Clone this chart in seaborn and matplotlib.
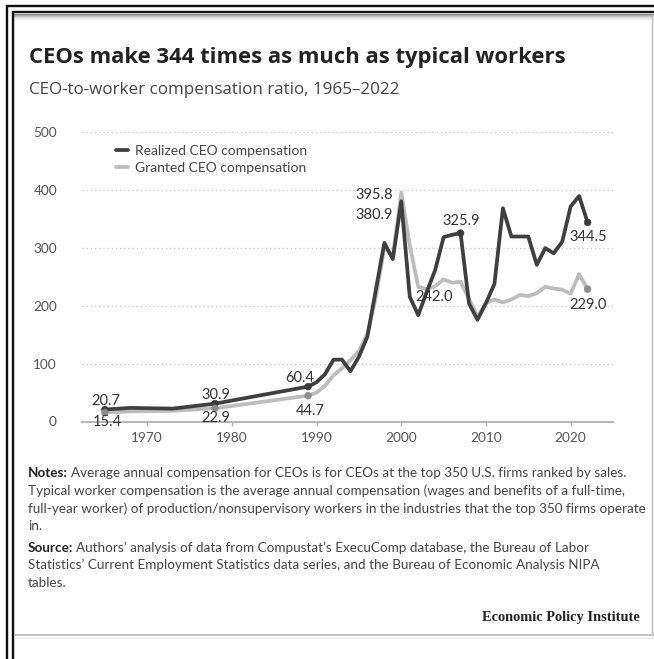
import numpy as np
import pandas as pd
import matplotlib
matplotlib.use("Agg")
import matplotlib.pyplot as plt
from matplotlib.lines import Line2D
import seaborn as sns

# ---------------- data ----------------
years = [1965, 1968, 1973, 1978, 1989, 1990, 1991, 1992, 1993, 1994, 1995, 1996,
         1997, 1998, 1999, 2000, 2001, 2002, 2003, 2004, 2005, 2006, 2007, 2008,
         2009, 2010, 2011, 2012, 2013, 2014, 2015, 2016, 2017, 2018, 2019, 2020,
         2021, 2022]
realized = [20.7, 23.5, 22.3, 30.9, 60.4, 68, 82, 107, 107, 87, 112, 147,
            228, 309, 281, 380.9, 216, 184, 224, 262, 319, 323, 325.9, 204,
            176, 205, 238, 369, 320, 320, 320, 271, 300, 291, 311, 372,
            390, 344.5]
granted = [15.4, 17.5, 18.5, 22.9, 44.7, 50, 62, 80, 92, 106, 122, 152,
           215, 302, 285, 395.8, 305, 233, 229, 234, 246, 240, 242.0, 212,
           181, 205, 211, 206, 211, 219, 217, 222, 233, 230, 228, 221,
           255, 229.0]
series_names = ["Realized CEO compensation", "Granted CEO compensation"]
x_ticks = [1970, 1980, 1990, 2000, 2010, 2020]
y_ticks = [0, 100, 200, 300, 400, 500]

# labelled points: (series index, year, text, dx px, dy px, ha)
labels = [
    (0, 1965, "20.7", 1, -8.5, "center"),
    (1, 1965, "15.4", 2, 9.5, "center"),
    (0, 1978, "30.9", 1, -9, "center"),
    (1, 1978, "22.9", 1, 10, "center"),
    (0, 1989, "60.4", -8, -9, "center"),
    (1, 1989, "44.7", 2, 15, "center"),
    (1, 2000, "395.8", -8, 2, "right"),
    (0, 2000, "380.9", -8, 14, "right"),
    (0, 2007, "325.9", 1, -12, "center"),
    (1, 2007, "242.0", -8, 15, "right"),
    (0, 2022, "344.5", 1, 15, "center"),
    (1, 2022, "229.0", 0, 16, "center"),
]
dot_points = [(0, 1965), (1, 1965), (0, 1978), (1, 1978), (0, 1989), (1, 1989),
              (0, 2007), (0, 2022), (1, 2022)]

notes_lines = [
    ("Notes:", "Average annual compensation for CEOs is for CEOs at the top 350 U.S. firms ranked by sales."),
    (None, "Typical worker compensation is the average annual compensation (wages and benefits of a full-time,"),
    (None, "full-year worker) of production/nonsupervisory workers in the industries that the top 350 firms operate"),
    (None, "in."),
    ("Source:", "Authors\u2019 analysis of data from Compustat\u2019s ExecuComp database, the Bureau of Labor"),
    (None, "Statistics\u2019 Current Employment Statistics data series, and the Bureau of Economic Analysis NIPA"),
    (None, "tables."),
]

# ---------------- style ----------------
W, H = 654, 659
DPI = 100
sns.set_theme(style="white")
plt.rcParams["font.family"] = ["Lato", "DejaVu Sans"]

dark = "#3f3f3f"
light = "#bcbcbc"
dot_colors = ["#3a3a3a", "#8c8c8c"]

df = pd.DataFrame({
    "year": years * 2,
    "ratio": realized + granted,
    "series": [series_names[0]] * len(years) + [series_names[1]] * len(years),
})

fig = plt.figure(figsize=(W / DPI, H / DPI), dpi=DPI)
fig.patch.set_facecolor("white")

def fx(px):
    return px / W

def fy(py):
    return 1 - py / H

ax_left, ax_right, ax_top, ax_bot = 82, 613, 132.5, 421.5
ax = fig.add_axes([fx(ax_left), fy(ax_bot), (ax_right - ax_left) / W, (ax_bot - ax_top) / H])
ax.set_facecolor("white")

sns.lineplot(data=df[df.series == series_names[1]], x="year", y="ratio", color=light,
             lw=2.7, ax=ax, label=series_names[1], zorder=3)
sns.lineplot(data=df[df.series == series_names[0]], x="year", y="ratio", color=dark,
             lw=2.7, ax=ax, label=series_names[0], zorder=4)

vals = [realized, granted]
dx_ = [y for (s, y) in dot_points]
dy_ = [vals[s][years.index(y)] for (s, y) in dot_points]
dc_ = [dot_colors[s] for (s, y) in dot_points]
sns.scatterplot(x=dx_, y=dy_, color=dc_[0], s=24, edgecolor="none", ax=ax, zorder=5, legend=False)
ax.collections[-1].set_color(dc_)

for s, yr, txt, dxp, dyp, ha in labels:
    v = vals[s][years.index(yr)]
    ax.annotate(txt, xy=(yr, v), xytext=(dxp * 0.72, -dyp * 0.72), textcoords="offset points",
                ha=ha, va="center", fontsize=10.5, color="#333333", zorder=6)

ax.set_xlim(1962.3, 2025)
ax.set_ylim(0, 500)
ax.set_xticks(x_ticks)
ax.set_yticks(y_ticks)
ax.set_xlabel("")
ax.set_ylabel("")
for sp in ["top", "right", "left"]:
    ax.spines[sp].set_visible(False)
ax.spines["bottom"].set_color("#b5b5b5")
ax.spines["bottom"].set_linewidth(1.4)
ax.spines["bottom"].set_zorder(2)
for yv in y_ticks[1:]:
    ax.axhline(yv, color="#cfcfcf", lw=1.0, ls=(0, (1, 2)), zorder=1)
ax.tick_params(axis="x", which="both", bottom=True, length=3, width=1, color="#b5b5b5",
               pad=4.5, labelsize=9.8, labelcolor="#555555")
ax.tick_params(axis="y", left=False, pad=12, labelsize=9.8, labelcolor="#555555")

handles, lbls = ax.get_legend_handles_labels()
order = [lbls.index(series_names[0]), lbls.index(series_names[1])]
leg = ax.legend([handles[i] for i in order], [lbls[i] for i in order], loc="upper left",
                bbox_to_anchor=((116 - ax_left) / (ax_right - ax_left), (ax_bot - 145) / (ax_bot - ax_top)),
                frameon=False, handlelength=0.85, handletextpad=0.55, labelspacing=0.33,
                borderaxespad=0, borderpad=0, fontsize=10.0)
for t in leg.get_texts():
    t.set_color("#444444")

fig.canvas.draw()
renderer = fig.canvas.get_renderer()

def fit_text(x, y, s, target_w, fs, **kw):
    t = fig.text(fx(x), fy(y), s, fontsize=fs, ha="left", va="center", **kw)
    w = t.get_window_extent(renderer=renderer).width
    t.set_fontsize(fs * target_w / w)
    return t

# ---------------- titles ----------------
fit_text(29, 57, "CEOs make 344 times as much as typical workers", 537, 14,
         fontweight="bold", color="#222222", family=["Open Sans", "DejaVu Sans"])
fit_text(29, 90, "CEO-to-worker compensation ratio, 1965\u20132022", 371, 11,
         color="#444444", family=["Open Sans", "DejaVu Sans"])

# ---------------- notes ----------------
def line_width(bold, rest, fs):
    w = 0
    if bold:
        t = fig.text(0, 0, bold, fontsize=fs, fontweight="bold")
        w += t.get_window_extent(renderer=renderer).width + 3
        t.remove()
    t = fig.text(0, 0, rest, fontsize=fs)
    w += t.get_window_extent(renderer=renderer).width
    t.remove()
    return w

max_w = max(line_width(b, r, 9.2) for b, r in notes_lines)
note_fs = 9.2 * 610 / max_w

def rich_line(x, y, bold, rest):
    xpos = fx(x)
    if bold:
        t = fig.text(xpos, fy(y), bold, fontsize=note_fs, fontweight="bold", color="#222222",
                     ha="left", va="center")
        bb = t.get_window_extent(renderer=renderer)
        xpos = (bb.x1 + 3) / W
    fig.text(xpos, fy(y), rest, fontsize=note_fs, color="#444444", ha="left", va="center")

line_y = [473, 491, 509, 526, 548, 565, 583]
for (b, r), yy in zip(notes_lines, line_y):
    rich_line(28, yy, b, r)
fig.text(fx(640), fy(617), "Economic Policy Institute", fontsize=10.4, fontweight="bold",
         family=["Liberation Serif", "DejaVu Serif"], color="#222222", ha="right", va="center")

# ---------------- frame ----------------
def hline(y, x0, x1, color, lw):
    fig.add_artist(Line2D([fx(x0), fx(x1)], [fy(y), fy(y)], color=color, lw=lw * 0.72,
                          transform=fig.transFigure, solid_capstyle="butt"))

def vline(x, y0, y1, color, lw):
    fig.add_artist(Line2D([fx(x), fx(x)], [fy(y0), fy(y1)], color=color, lw=lw * 0.72,
                          transform=fig.transFigure, solid_capstyle="butt"))

for i, c in enumerate(["#8a8a8a", "#a8a8a8", "#c4c4c4", "#d8d8d8", "#e6e6e6", "#f0f0f0", "#f7f7f7"]):
    hline(14 + i, 13, 654, c, 1.1)
hline(6, 6, 654, "#111111", 2.4)
hline(12, 12, 654, "#111111", 2.4)
vline(7, 5, 659, "#111111", 2.4)
vline(13, 11, 659, "#111111", 2.4)
vline(652, 14, 636, "#bdbdbd", 1.4)
hline(635, 14, 654, "#c4c4c4", 2.0)
hline(637.5, 14, 654, "#e8e8e8", 1.2)

fig.savefig("out.png", dpi=DPI, facecolor="white")
